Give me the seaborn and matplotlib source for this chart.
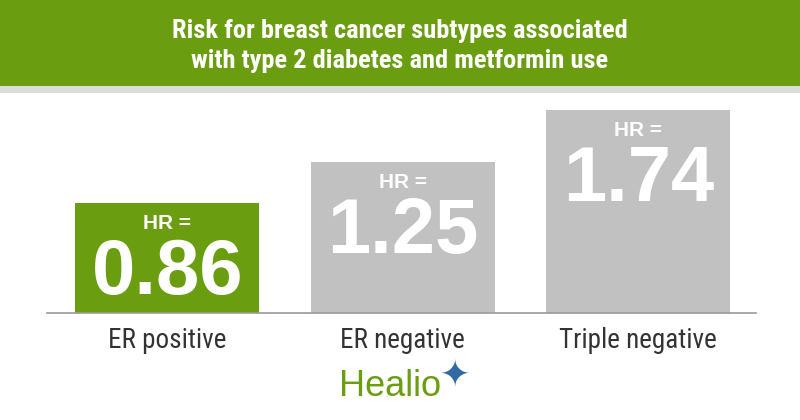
import matplotlib
matplotlib.use("Agg")
import matplotlib.pyplot as plt
import seaborn as sns
import pandas as pd
from matplotlib.patches import Rectangle

# ---- data ----
categories = ["ER positive", "ER negative", "Triple negative"]
hr_values = [0.86, 1.25, 1.74]
value_labels = ["0.86", "1.25", "1.74"]
bar_colors = ["#6a9e10", "#c1c1c1", "#c1c1c1"]
title_text = "Risk for breast cancer subtypes associated\nwith type 2 diabetes and metformin use"
brand_text = "Healio"

BASE = -0.18  # visual floor of the bars
GREEN = "#6a9e10"
COND = ["Roboto Condensed", "Roboto", "DejaVu Sans"]

sns.set_theme(style="white")
plt.rcParams["font.family"] = ["Liberation Sans", "DejaVu Sans"]

fig = plt.figure(figsize=(8, 4.2), dpi=100)
fig.patch.set_facecolor("white")

# banner
fig.patches.append(Rectangle((0, 1 - 86 / 420), 1, 86 / 420, transform=fig.transFigure,
                             facecolor=GREEN, edgecolor="none", zorder=0))
fig.patches.append(Rectangle((0, 1 - 93 / 420), 1, 7 / 420, transform=fig.transFigure,
                             facecolor="#dcdcdc", edgecolor="none", zorder=0))
fig.text(0.5, 1 - 46 / 420, title_text, ha="center", va="center", color="white",
         fontsize=19, fontweight="bold", linespacing=1.35, family=COND)

ax = fig.add_axes([0.059, 0.255, 0.886, 0.519])
df = pd.DataFrame({"cat": categories, "hr": hr_values})
df["height"] = df["hr"] - BASE
sns.barplot(data=df, x="cat", y="height", hue="cat", palette=bar_colors, legend=False,
            width=0.78, bottom=BASE, saturation=1, ax=ax, linewidth=0)

ax.set_xlim(-0.51, 2.5)
ax.set_ylim(BASE, 1.882)
ax.set_xlabel("")
ax.set_ylabel("")
ax.set_yticks([])
for s in ["left", "right", "top"]:
    ax.spines[s].set_visible(False)
ax.spines["bottom"].set_color("#9a9a9a")
ax.spines["bottom"].set_linewidth(1.2)
ax.tick_params(axis="x", length=0, pad=10)
for lab in ax.get_xticklabels():
    lab.set_fontsize(19.5)
    lab.set_color("#333333")
    lab.set_family(COND)

for i, (v, lbl) in enumerate(zip(hr_values, value_labels)):
    ax.annotate("HR =", xy=(i, v), xytext=(0, -15), textcoords="offset points",
                ha="center", va="center", color="white", fontsize=15, fontweight="bold")
    ax.annotate(lbl, xy=(i, v), xytext=(0, -51), textcoords="offset points",
                ha="center", va="center", color="white", fontsize=56,
                fontweight="bold")

# brand mark
fig.text(0.487, 1 - 387 / 420, brand_text, ha="center", va="center", color="#6a9e10",
         fontsize=26, family=["Liberation Sans", "DejaVu Sans"])
fig.text(0.568, 1 - 375 / 420, "\u2726", ha="center", va="center", color="#2f6aa3",
         fontsize=26, family=["DejaVu Sans"])

fig.savefig("out.png", dpi=100, facecolor="white")
